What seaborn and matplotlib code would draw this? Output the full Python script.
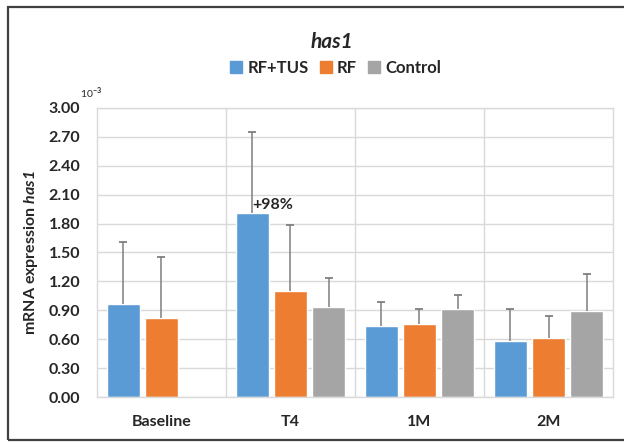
import numpy as np
import pandas as pd
import matplotlib
matplotlib.use("Agg")
import matplotlib.pyplot as plt
import seaborn as sns
from matplotlib.patches import Rectangle

# Data (values x 10^-3)
timepoints = ["Baseline", "T4", "1M", "2M"]
groups = ["RF+TUS", "RF", "Control"]
rf_tus = [0.97, 1.91, 0.74, 0.585]
rf = [0.82, 1.10, 0.755, 0.615]
control = [np.nan, 0.93, 0.91, 0.89]
rf_tus_err = [0.64, 0.84, 0.25, 0.325]
rf_err = [0.63, 0.69, 0.155, 0.225]
control_err = [np.nan, 0.30, 0.15, 0.39]
colors = ["#5b9bd5", "#ed7d31", "#a5a5a5"]

df = pd.DataFrame({
    "timepoint": timepoints * 3,
    "group": [g for g in groups for _ in timepoints],
    "value": rf_tus + rf + control,
    "err": rf_tus_err + rf_err + control_err,
})
df = df.dropna(subset=["value"])

sns.set_style("white")
plt.rcParams["font.family"] = ["Lato", "DejaVu Sans"]
plt.rcParams["mathtext.fontset"] = "custom"
plt.rcParams["mathtext.rm"] = "Lato:bold"
plt.rcParams["mathtext.bfit"] = "Lato:italic:bold"

fig = plt.figure(figsize=(6.24, 4.42), dpi=100)
ax = fig.add_axes([0.1554, 0.1018, 0.827, 0.654])

sns.barplot(data=df, x="timepoint", y="value", hue="group", order=timepoints,
            hue_order=groups, palette=colors, width=0.885, gap=0.13,
            errorbar=None, saturation=1, ax=ax, legend=False, zorder=2)

# one-sided (upper) error bars from the precomputed values
err_lookup = {(r.group, r.timepoint): r.err for r in df.itertuples()}
for g, cont in zip(groups, ax.containers):
    for bar in cont:
        cx = bar.get_x() + bar.get_width() / 2
        h = bar.get_height()
        if np.isnan(h):
            continue
        tp = timepoints[int(round(cx))]
        e = err_lookup[(g, tp)]
        ax.vlines(cx, h, h + e, color="#7f7f7f", linewidth=1.1, zorder=3)
        ax.plot(cx, h + e, marker="_", markersize=6, markeredgewidth=1.3,
                color="#7f7f7f", zorder=3)

# annotation on T4 RF+TUS
t4_bar = ax.containers[0][1]
ax.text(t4_bar.get_x() + t4_bar.get_width() / 2, 1.99, "+98%",
        ha="left", va="center", fontsize=11.5, fontweight="bold")

ax.set_ylim(0, 3.0)
ax.set_xlim(-0.5, 3.5)
ax.set_yticks(np.arange(0, 3.01, 0.3))
ax.set_yticklabels([f"{v:.2f}" for v in np.arange(0, 3.01, 0.3)],
                   fontsize=11.5, fontweight="bold")
ax.set_xticks(range(len(timepoints)))
ax.set_xticklabels(timepoints, fontsize=11.5, fontweight="bold")
ax.tick_params(axis="x", length=0, pad=13)
ax.tick_params(axis="y", length=0, pad=12)
ax.set_xlabel("")
ax.set_ylabel(r"mRNA expression $\mathbfit{has1}$", fontsize=11.5,
              fontweight="bold", labelpad=6)

ax.yaxis.grid(True, color="#d9d9d9", linewidth=1, zorder=0)
for xb in [0.5, 1.5, 2.5]:
    ax.axvline(xb, color="#d9d9d9", linewidth=1, zorder=0)
for s in ax.spines.values():
    s.set_color("#d9d9d9")
    s.set_linewidth(1)

ax.text(-0.033, 1.025, r"10$^{-3}$", transform=ax.transAxes, fontsize=7.5,
        ha="left", va="bottom")

fig.text(0.532, 0.905, "has1", ha="center", va="center", fontsize=15,
         fontweight="bold", style="italic")

handles = [Rectangle((0, 0), 1, 1, color=c) for c in colors]
fig.legend(handles, groups, loc="center", bbox_to_anchor=(0.538, 0.846),
           ncol=3, frameon=False, handlelength=0.7, handleheight=0.7,
           handletextpad=0.3, columnspacing=0.7,
           prop={"size": 12, "weight": "bold"})

# outer chart border (right side cropped in the original)
fig.patches.append(Rectangle((8 / 624, 1 - 440 / 442), 1.0, (440 - 6.5) / 442,
                             transform=fig.transFigure, fill=False,
                             edgecolor="#404040", linewidth=1.6))

fig.savefig("out.png", dpi=100)
